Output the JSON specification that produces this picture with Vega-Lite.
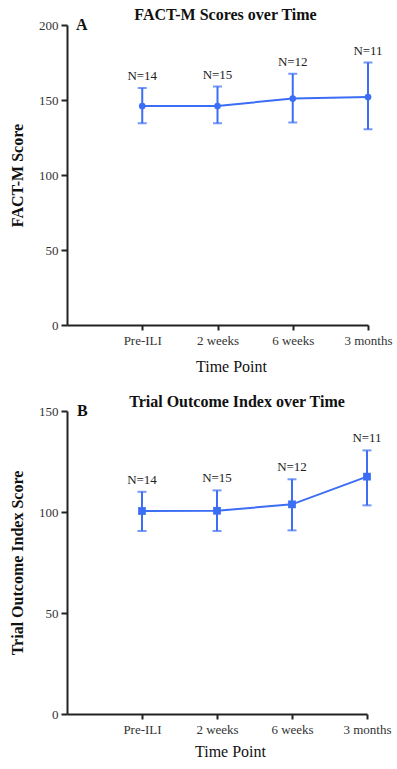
{
  "$schema": "https://vega.github.io/schema/vega-lite/v6.json",
  "padding": {"left": 9, "top": 7, "right": 5, "bottom": 5},
  "background": "white",
  "spacing": 20,
  "config": {
    "font": "Liberation Serif",
    "view": {"stroke": null},
    "axis": {"domainColor": "#222", "domainWidth": 2, "tickColor": "#222", "tickWidth": 2, "tickSize": 5, "labelFont": "Liberation Serif", "labelFontSize": 13, "labelColor": "#333", "titleFont": "Liberation Serif", "titleColor": "#111", "grid": false},
    "title": {"font": "Liberation Serif", "fontSize": 16, "fontWeight": "bold", "color": "#111", "anchor": "middle"}
  },
  "datasets": {
    "fact": [
      {"time": "Pre-ILI", "mean": 146, "lower": 134.5, "upper": 158, "n": "N=14"},
      {"time": "2 weeks", "mean": 146, "lower": 134.5, "upper": 159, "n": "N=15"},
      {"time": "6 weeks", "mean": 151, "lower": 135, "upper": 167.5, "n": "N=12"},
      {"time": "3 months", "mean": 152, "lower": 130.5, "upper": 175, "n": "N=11"}
    ],
    "toi": [
      {"time": "Pre-ILI", "mean": 100.5, "lower": 90.6, "upper": 110, "n": "N=14"},
      {"time": "2 weeks", "mean": 100.6, "lower": 90.6, "upper": 110.7, "n": "N=15"},
      {"time": "6 weeks", "mean": 103.8, "lower": 90.9, "upper": 116.2, "n": "N=12"},
      {"time": "3 months", "mean": 117.5, "lower": 103.3, "upper": 130.5, "n": "N=11"}
    ],
    "letterA": [{"letter": "A"}],
    "letterB": [{"letter": "B"}]
  },
  "vconcat": [
    {
      "width": 301,
      "height": 300,
      "title": {"text": "FACT-M Scores over Time", "dx": 8, "offset": -6},
      "data": {"name": "fact"},
      "encoding": {
        "x": {"field": "time", "type": "ordinal", "title": "Time Point",
          "scale": {"type": "point", "domain": ["origin", "Pre-ILI", "2 weeks", "6 weeks", "3 months"], "padding": 0},
          "axis": {"values": ["Pre-ILI", "2 weeks", "6 weeks", "3 months"], "labelAngle": 0, "titleFontSize": 16, "titleFontWeight": "normal", "titlePadding": 11, "labelPadding": 4, "titleX": 164}}
      },
      "layer": [
        {"mark": {"type": "rule", "color": "#3b6ef5", "strokeWidth": 2},
          "encoding": {
            "y": {"field": "lower", "type": "quantitative", "title": "FACT-M Score", "scale": {"domain": [0, 200], "nice": false},
              "axis": {"values": [0, 50, 100, 150, 200], "tickSize": 6, "labelPadding": 3, "titleFontSize": 16, "titleFontWeight": "bold", "titlePadding": 13}},
            "y2": {"field": "upper"}}},
        {"mark": {"type": "tick", "color": "#3b6ef5", "thickness": 2, "size": 9},
          "encoding": {"y": {"field": "lower", "type": "quantitative", "title": "FACT-M Score"}}},
        {"mark": {"type": "tick", "color": "#3b6ef5", "thickness": 2, "size": 9},
          "encoding": {"y": {"field": "upper", "type": "quantitative", "title": "FACT-M Score"}}},
        {"mark": {"type": "line", "color": "#3b6ef5", "strokeWidth": 2},
          "encoding": {"y": {"field": "mean", "type": "quantitative", "title": "FACT-M Score"}}},
        {"mark": {"type": "point", "shape": "circle", "filled": true, "size": 45, "opacity": 1, "color": "#3b6ef5"},
          "encoding": {"y": {"field": "mean", "type": "quantitative", "title": "FACT-M Score"}}},
        {"mark": {"type": "text", "dy": -8, "baseline": "alphabetic", "fontSize": 13, "color": "#222"},
          "encoding": {"y": {"field": "upper", "type": "quantitative", "title": "FACT-M Score"}, "text": {"field": "n"}}},
        {"data": {"name": "letterA"},
          "mark": {"type": "text", "align": "left", "baseline": "alphabetic", "dx": 9, "dy": 5, "fontSize": 16, "fontWeight": "bold", "color": "#111"},
          "encoding": {"x": {"datum": "origin"}, "y": {"datum": 200}, "text": {"field": "letter"}}}
      ]
    },
    {
      "width": 300,
      "height": 303,
      "title": {"text": "Trial Outcome Index over Time", "dx": 20, "offset": -7},
      "data": {"name": "toi"},
      "encoding": {
        "x": {"field": "time", "type": "ordinal", "title": "Time Point",
          "scale": {"type": "point", "domain": ["origin", "Pre-ILI", "2 weeks", "6 weeks", "3 months"], "padding": 0},
          "axis": {"values": ["Pre-ILI", "2 weeks", "6 weeks", "3 months"], "labelAngle": 0, "titleFontSize": 16, "titleFontWeight": "normal", "titlePadding": 7, "labelPadding": 4, "titleX": 163}}
      },
      "layer": [
        {"mark": {"type": "rule", "color": "#3b6ef5", "strokeWidth": 2},
          "encoding": {
            "y": {"field": "lower", "type": "quantitative", "title": "Trial Outcome Index Score", "scale": {"domain": [0, 150], "nice": false},
              "axis": {"values": [0, 50, 100, 150], "tickSize": 6, "labelPadding": 3, "titleFontSize": 16, "titleFontWeight": "bold", "titlePadding": 13}},
            "y2": {"field": "upper"}}},
        {"mark": {"type": "tick", "color": "#3b6ef5", "thickness": 2, "size": 9},
          "encoding": {"y": {"field": "lower", "type": "quantitative", "title": "Trial Outcome Index Score"}}},
        {"mark": {"type": "tick", "color": "#3b6ef5", "thickness": 2, "size": 9},
          "encoding": {"y": {"field": "upper", "type": "quantitative", "title": "Trial Outcome Index Score"}}},
        {"mark": {"type": "line", "color": "#3b6ef5", "strokeWidth": 2},
          "encoding": {"y": {"field": "mean", "type": "quantitative", "title": "Trial Outcome Index Score"}}},
        {"mark": {"type": "point", "shape": "square", "filled": true, "size": 60, "opacity": 1, "color": "#3b6ef5"},
          "encoding": {"y": {"field": "mean", "type": "quantitative", "title": "Trial Outcome Index Score"}}},
        {"mark": {"type": "text", "dy": -8, "baseline": "alphabetic", "fontSize": 13, "color": "#222"},
          "encoding": {"y": {"field": "upper", "type": "quantitative", "title": "Trial Outcome Index Score"}, "text": {"field": "n"}}},
        {"data": {"name": "letterB"},
          "mark": {"type": "text", "align": "left", "baseline": "alphabetic", "dx": 10, "dy": 5, "fontSize": 16, "fontWeight": "bold", "color": "#111"},
          "encoding": {"x": {"datum": "origin"}, "y": {"datum": 150}, "text": {"field": "letter"}}}
      ]
    }
  ]
}
